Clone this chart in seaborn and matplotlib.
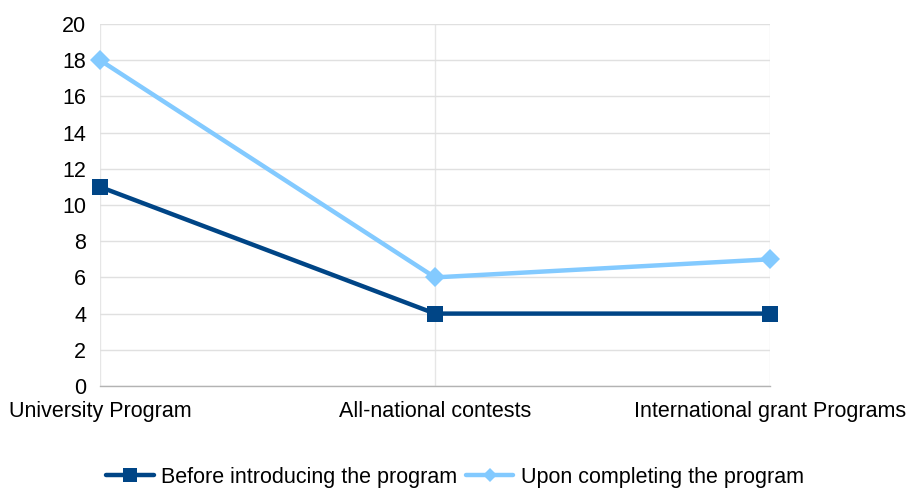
import matplotlib
matplotlib.use("Agg")
import matplotlib.pyplot as plt
import seaborn as sns
import pandas as pd
from matplotlib.lines import Line2D

categories = ["University Program", "All-national contests", "International grant Programs"]
before_values = [11, 4, 4]
after_values = [18, 6, 7]
series_names = ["Before introducing the program", "Upon completing the program"]
y_ticks = [0, 2, 4, 6, 8, 10, 12, 14, 16, 18, 20]

df = pd.DataFrame({
    "category": categories * 2,
    "value": before_values + after_values,
    "series": [series_names[0]] * 3 + [series_names[1]] * 3,
})

sns.set_style("white")
plt.rcParams["font.family"] = ["Liberation Sans", "DejaVu Sans"]
plt.rcParams["text.color"] = "black"

fig = plt.figure(figsize=(9.07, 4.90), dpi=100)
ax = fig.add_axes([100 / 907, 1 - 386 / 490, 670 / 907, 362 / 490])

palette = {series_names[0]: "#004586", series_names[1]: "#83CAFF"}
markers = {series_names[0]: "s", series_names[1]: "D"}

sns.lineplot(data=df, x="category", y="value", hue="series", style="series",
             palette=palette, markers=markers, dashes=False, linewidth=3.2,
             markeredgewidth=0, ax=ax, sort=False, legend=False)
for line in ax.lines:
    line.set_clip_on(False)
    line.set_zorder(3)
    if line.get_marker() == "s":
        line.set_markersize(11.5)
    else:
        line.set_markersize(10)

ax.set_ylim(0, 20)
ax.set_xlim(0, 2)
ax.set_yticks(y_ticks)
ax.set_xticks(range(len(categories)))
ax.set_xticklabels(categories)
ax.yaxis.grid(True, color="#e0e0e0", linewidth=1)
ax.xaxis.grid(True, color="#e6e6e6", linewidth=1)
ax.set_axisbelow(True)
for side in ["top", "right", "left"]:
    ax.spines[side].set_visible(False)
ax.spines["bottom"].set_color("#b3b3b3")
ax.spines["bottom"].set_linewidth(1)
ax.tick_params(axis="y", length=7, color="#b3b3b3", width=1, labelsize=15.5, pad=3,
               labelcolor="black")
ax.tick_params(axis="x", length=7, color="#d0d0d0", width=1, labelsize=15.5, pad=4,
               labelcolor="black")
ax.set_xlabel("")
ax.set_ylabel("")

handles = [
    Line2D([], [], color=palette[series_names[0]], marker="s", linewidth=3.2,
           markersize=9.5, markeredgewidth=0),
    Line2D([], [], color=palette[series_names[1]], marker="D", linewidth=3.2,
           markersize=7, markeredgewidth=0),
]
fig.legend(handles, series_names, loc="center", bbox_to_anchor=(455 / 907, 1 - 477 / 490),
           ncol=2, frameon=False, fontsize=15.5, handlelength=2.2, handletextpad=0.35,
           columnspacing=0.4, borderpad=0, labelcolor="black")

fig.savefig("out.png", dpi=100)
